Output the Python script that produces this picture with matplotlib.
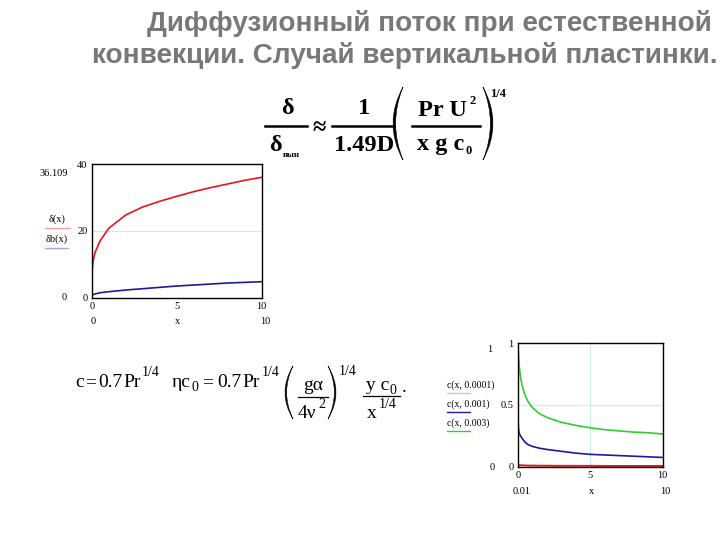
import matplotlib
matplotlib.use('Agg')
import matplotlib.pyplot as plt
from matplotlib.lines import Line2D
from matplotlib.path import Path
from matplotlib.patches import PathPatch

# ---------------- data ----------------
x_delta = [0, 0.01, 0.05, 0.1, 0.2, 0.5, 1, 2, 3, 4, 5, 6, 7, 8, 9, 10]
delta = [0, 6.4, 9.6, 11.4, 13.6, 17.1, 20.8, 24.8, 27.2, 28.9, 30.4, 31.8, 33.0, 34.1, 35.2, 36.1]
x_delta_b = [0, 0.1, 0.5, 1, 2, 3, 4, 5, 6, 7, 8, 9, 10]
delta_b = [0.5, 1.0, 1.5, 1.8, 2.3, 2.7, 3.1, 3.5, 3.8, 4.1, 4.4, 4.6, 4.8]

x_c = [0.01, 0.05, 0.1, 0.2, 0.3, 0.5, 0.7, 1, 1.5, 2, 3, 4, 5, 6, 7, 8, 9, 10]
c_0001 = [0.02, 0.015, 0.013, 0.012, 0.011, 0.010, 0.009, 0.009, 0.008, 0.008,
          0.007, 0.007, 0.007, 0.006, 0.006, 0.006, 0.006, 0.006]
c_001 = [0.43, 0.31, 0.27, 0.25, 0.23, 0.20, 0.18, 0.165, 0.15, 0.14,
         0.125, 0.11, 0.10, 0.095, 0.09, 0.085, 0.08, 0.075]
c_003 = [1.0, 0.92, 0.82, 0.72, 0.66, 0.58, 0.53, 0.48, 0.43, 0.40,
         0.36, 0.335, 0.315, 0.30, 0.29, 0.28, 0.275, 0.265]

left_xticks = [0, 5, 10]
left_yticks = [0, 20, 40]
right_xticks = [0, 5, 10]
right_yticks = [0, 0.5, 1]
right_ylabels = ['0', '0.5', '1']
legend_right = ['c(x, 0.0001)', 'c(x, 0.001)', 'c(x, 0.003)']

title1 = "Диффузионный поток при естественной"
title2 = "конвекции. Случай вертикальной пластинки."

# ---------------- figure ----------------
W, H = 720, 540
fig = plt.figure(figsize=(7.2, 5.4), dpi=100)
fig.patch.set_facecolor('white')


def T(x, y, s, **kw):
    return fig.text(x / W, 1 - y / H, s, **kw)


def L(x0, x1, y0, y1, **kw):
    fig.add_artist(Line2D([x0 / W, x1 / W], [1 - y0 / H, 1 - y1 / H],
                          transform=fig.transFigure, **kw))


def paren(x_end, x_outer, y0, y1, thick):
    """Crescent-shaped bracket; x_end = tips, x_outer = outer bulge."""
    ym = 0.5 * (y0 + y1)
    c_out = 2 * x_outer - x_end
    sgn = 1 if x_end > x_outer else -1
    c_in = 2 * (x_outer + sgn * thick) - x_end
    pts = [(x_end, y0), (c_out, ym), (x_end, y1), (c_in, ym), (x_end, y0), (x_end, y0)]
    pts = [(px / W, 1 - py / H) for px, py in pts]
    codes = [Path.MOVETO, Path.CURVE3, Path.CURVE3, Path.CURVE3, Path.CURVE3, Path.CLOSEPOLY]
    fig.add_artist(PathPatch(Path(pts, codes), transform=fig.transFigure,
                             facecolor='black', edgecolor='black', lw=0.4))


GRAY = '#787878'
RED = '#e8161b'
BLUE = '#1c1c9a'
GREEN = '#33cc33'
SERIF = 'Liberation Serif'
small = dict(family=SERIF, fontsize=7.5, color='black')

# title
T(712, 31, title1, ha='right', va='baseline', fontsize=20.1, fontweight='bold',
  color=GRAY, family='Liberation Sans')
T(718, 63, title2, ha='right', va='baseline', fontsize=20.1, fontweight='bold',
  color=GRAY, family='Liberation Sans')

# ---------------- formula 1 (bold Times) ----------------
fb = dict(family=SERIF, fontweight='bold', fontsize=17.5, color='black', va='baseline')
fbs = dict(family=SERIF, fontweight='bold', fontsize=9, color='black', va='baseline')
T(287, 114, 'δ', ha='center', **fb)
L(265, 307, 126, 126, color='black', lw=1.8)
T(275, 151, 'δ', ha='center', **fb)
T(283, 157, 'вын', ha='left', family=SERIF, fontweight='bold', fontsize=6.5, va='baseline')
T(319, 134, '≈', ha='center', **fb)
T(364, 114, '1', ha='center', **fb)
L(332, 394, 126, 126, color='black', lw=1.8)
T(364, 151, '1.49D', ha='center', **fb)
paren(403, 393, 87, 160, 2.6)
T(418, 116, 'Pr U', ha='left', **fb)
T(469, 104, '2', ha='left', **fbs)
L(412, 480, 126, 126, color='black', lw=1.8)
T(417, 150, 'x g c', ha='left', **fb)
T(465, 154, '0', ha='left', **fbs)
paren(483, 493, 87, 160, 2.6)
T(490, 97, '1/4', ha='left', **fbs)

# ---------------- formula 2 (regular Times) ----------------
fr = dict(family=SERIF, fontsize=14, color='black', va='baseline')
fs = dict(family=SERIF, fontsize=10, color='black', va='baseline')
T(75, 387, 'c', ha='left', **fr)
T(85, 387, '=', ha='left', **fr)
T(98, 387, '0.7', ha='left', **fr)
T(123, 387, 'Pr', ha='left', **fr)
T(142, 376, '1/4', ha='left', **fs)
T(172, 387, 'ηc', ha='left', **fr)
T(191, 391, '0', ha='left', **fs)
T(202, 387, '=', ha='left', **fr)
T(217, 387, '0.7', ha='left', **fr)
T(242, 387, 'Pr', ha='left', **fr)
T(262, 376, '1/4', ha='left', **fs)
paren(293, 285, 366, 419, 1.6)
T(313, 390, 'gα', ha='center', **fr)
L(298, 328, 397, 397, color='black', lw=0.9)
T(298, 418, '4ν', ha='left', **fr)
T(318, 408, '2', ha='left', **fs)
paren(328, 336, 366, 419, 1.6)
T(339, 375, '1/4', ha='left', **fs)
T(366, 390, 'y c', ha='left', **fr)
T(389, 394, '0', ha='left', **fs)
L(363, 400, 396, 396, color='black', lw=0.9)
T(367, 418, 'x', ha='left', **fr)
T(379, 408, '1/4', ha='left', **fs)
T(402, 392, '.', ha='left', **fr)

# ---------------- left plot ----------------
ax1 = fig.add_axes([91.7 / W, 1 - 297.7 / H, (261.7 - 91.7) / W, (297.7 - 164.3) / H])
ax1.set_xlim(0, 10)
ax1.set_ylim(0, 40)
ax1.axhline(20, color='#c9eeee', lw=0.8, zorder=0)
ax1.plot(x_delta, delta, color=RED, lw=1.2)
ax1.plot(x_delta_b, delta_b, color=BLUE, lw=1.2)
ax1.set_xticks(left_xticks)
ax1.set_yticks(left_yticks)
ax1.set_xticklabels([str(v) for v in left_xticks], **small)
ax1.set_yticklabels([str(v) for v in left_yticks], **small)
ax1.tick_params(length=0, pad=3)
for s in ax1.spines.values():
    s.set_linewidth(1.0)

T(54, 173, '36.109', ha='center', va='center', **small)
T(57, 219, 'δ(x)', ha='center', va='center', **small)
L(45, 70, 228, 228, color='#f0a0a0', lw=1.0)
T(57, 239, 'δb(x)', ha='center', va='center', **small)
L(45, 68, 248, 248, color='#a0a8e0', lw=1.0)
T(64, 297, '0', ha='center', va='center', **small)
T(93, 322, '0', ha='center', va='center', **small)
T(178, 322, 'x', ha='center', va='center', **small)
T(265, 322, '10', ha='center', va='center', **small)

# ---------------- right plot ----------------
ax2 = fig.add_axes([517.7 / W, 1 - 466.7 / H, 145 / W, (466.7 - 343.3) / H])
ax2.set_xlim(0, 10)
ax2.set_ylim(0, 1)
ax2.axvline(5, color='#c9eeee', lw=0.8, zorder=0)
ax2.axhline(0.5, color='#dde6e6', lw=0.8, zorder=0)
ax2.plot(x_c, c_0001, color=RED, lw=1.4)
ax2.plot(x_c, c_001, color=BLUE, lw=1.2)
ax2.plot(x_c, c_003, color=GREEN, lw=1.2)
ax2.set_xticks(right_xticks)
ax2.set_yticks(right_yticks)
ax2.set_xticklabels([str(v) for v in right_xticks], **small)
ax2.set_yticklabels(right_ylabels, **small)
ax2.tick_params(length=0, pad=3)
for s in ax2.spines.values():
    s.set_linewidth(1.0)

T(490, 350, '1', ha='center', va='center', **small)
T(492, 467, '0', ha='center', va='center', **small)
leg_y = [385, 404, 423]
leg_col = ['#f4b8b8', BLUE, GREEN]
for lab, yy, col in zip(legend_right, leg_y, leg_col):
    T(447, yy, lab, ha='left', va='center', family=SERIF, fontsize=7)
    L(447, 470, yy + 8, yy + 8, color=col, lw=1.0)
T(522, 492, '0.01', ha='center', va='center', **small)
T(592, 492, 'x', ha='center', va='center', **small)
T(665, 492, '10', ha='center', va='center', **small)

fig.savefig('out.png', dpi=100, facecolor='white')
